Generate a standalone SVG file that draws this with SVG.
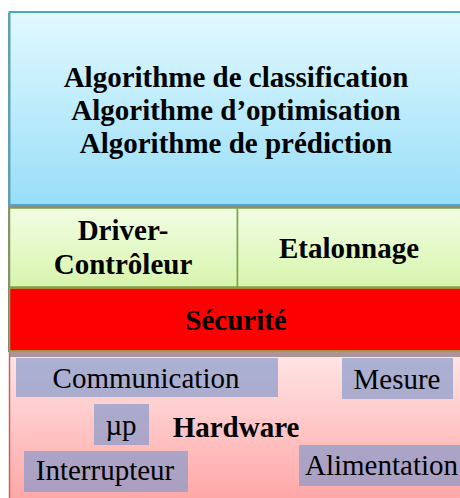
<svg xmlns="http://www.w3.org/2000/svg" width="460" height="498" viewBox="0 0 460 498">
<defs>
<linearGradient id="gBlue" x1="0" y1="0" x2="0" y2="1">
<stop offset="0" stop-color="#e2f9ff"/>
<stop offset="1" stop-color="#98def8"/>
</linearGradient>
<linearGradient id="gGreen" x1="0" y1="0" x2="0" y2="1">
<stop offset="0" stop-color="#f1fde3"/>
<stop offset="1" stop-color="#d8f5ad"/>
</linearGradient>
<linearGradient id="gPink" x1="0" y1="0" x2="0" y2="1">
<stop offset="0" stop-color="#ffe6e6"/>
<stop offset="1" stop-color="#ffa6a6"/>
</linearGradient>
</defs>
<style>
.b{font-family:"Liberation Serif","Times New Roman",serif;font-weight:bold;font-size:29px;fill:#000;text-anchor:middle}
.r{font-family:"Liberation Serif","Times New Roman",serif;font-size:29px;fill:#000;text-anchor:middle}
.chip{fill:#8399cc;fill-opacity:0.68}
.shadow{fill:#8c8c80;fill-opacity:0.75}
</style>
<rect width="460" height="498" fill="#ffffff"/>

<g id="hardware">
<rect x="9" y="352" width="460" height="150" fill="url(#gPink)"/>
<line x1="9.5" y1="352" x2="9.5" y2="498" stroke="#c8605e" stroke-width="1.5"/>
<rect x="9" y="352" width="460" height="5" fill="#9a8080" fill-opacity="0.8"/>
<text class="b" x="236" y="437">Hardware</text>
</g>

<g id="communication">
<rect class="chip" x="16" y="358" width="262" height="39"/>
<text class="r" x="146" y="388">Communication</text>
</g>
<g id="mesure">
<rect class="chip" x="342" y="358" width="111" height="41"/>
<text class="r" x="397" y="389">Mesure</text>
</g>
<g id="up">
<rect class="chip" x="94" y="404" width="55" height="41"/>
<text class="r" x="121" y="435">µp</text>
</g>
<g id="interrupteur">
<rect class="chip" x="24" y="451" width="164" height="41"/>
<text class="r" x="105" y="480">Interrupteur</text>
</g>
<g id="alimentation">
<rect class="chip" x="299" y="445" width="170" height="41"/>
<text class="r" x="305" y="475" style="text-anchor:start">Alimentation</text>
</g>

<g id="securite">
<rect x="8" y="287" width="460" height="65" fill="#7a7a70"/>
<rect x="9.5" y="288" width="460" height="63" fill="#ff0000" stroke="#8db554" stroke-width="1.5"/>
<text class="b" x="236" y="330">Sécurité</text>
</g>

<g id="driver-controleur">
<rect x="8" y="206" width="230" height="82" fill="#8a8a7a"/>
<rect x="9.5" y="208" width="228" height="79" fill="url(#gGreen)" stroke="#7ea24a" stroke-width="1.5"/>
<text class="b" x="123" y="240">Driver-</text>
<text class="b" x="123" y="274">Contrôleur</text>
</g>
<g id="etalonnage">
<rect x="237.5" y="206" width="230" height="3" fill="#8a8a7a"/>
<rect x="237.5" y="208" width="230" height="79" fill="url(#gGreen)" stroke="#7ea24a" stroke-width="1.5"/>
<text class="b" x="349" y="258">Etalonnage</text>
</g>

<g id="algorithmes">
<rect x="8" y="13" width="460" height="195" fill="#8c8c84"/>
<rect x="9.5" y="12" width="460" height="193" fill="url(#gBlue)" stroke="#48aac8" stroke-width="2"/>
<text class="b" x="236" y="87">Algorithme de classification</text>
<text class="b" x="236" y="120">Algorithme d’optimisation</text>
<text class="b" x="236" y="153">Algorithme de prédiction</text>
</g>

<g id="connectors"/>
</svg>
